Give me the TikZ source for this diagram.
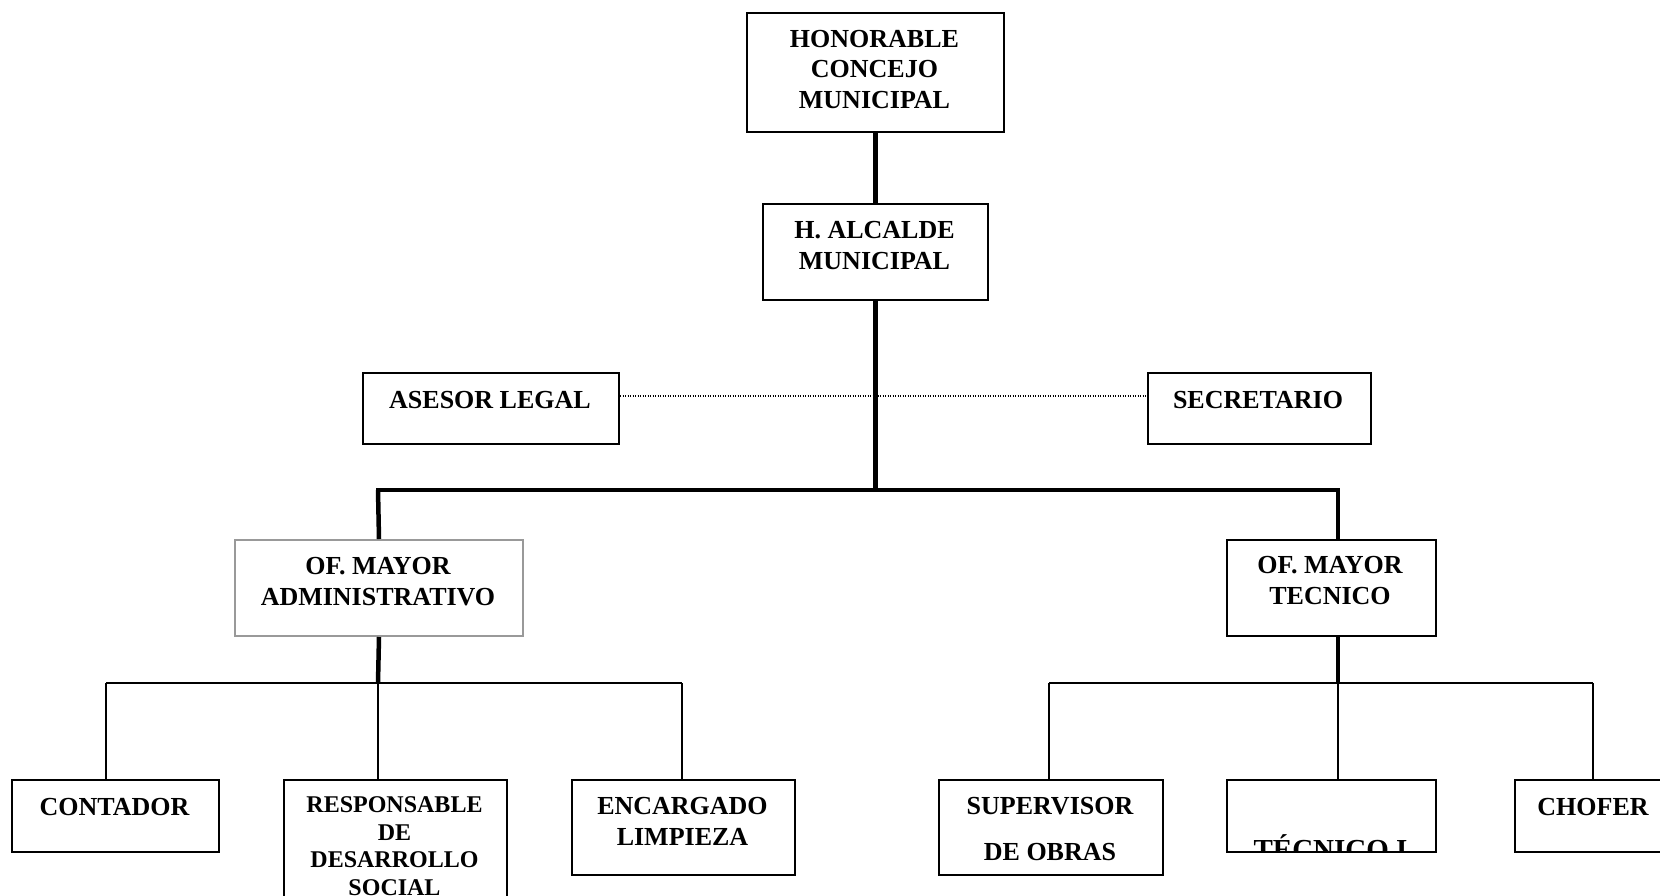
\documentclass[tikz,border=0pt]{standalone}
\usepackage{fontspec}
\setmainfont{Liberation Serif}
\begin{document}
\begin{tikzpicture}[x=1pt,y=-1pt,
  box/.style={draw=black, line width=2pt, rectangle, inner sep=0pt, anchor=north west},
  graybox/.style={box, draw=black!40},
  lbl/.style={font=\fontsize{26}{30.5}\selectfont\bfseries, align=center, inner sep=0pt, anchor=base},
  small/.style={font=\fontsize{24}{27.5}\selectfont\bfseries},
  thickline/.style={line width=4.5pt},
  thinline/.style={line width=1.8pt},
  dotline/.style={line width=1.2pt, dash pattern=on 1.2pt off 1.3pt}]
\useasboundingbox (0,0) rectangle (1660,895);
\fill[white] (0,0) rectangle (1660,895);
\clip (0,0) rectangle (1660,895);

% boxes
\node[box, minimum width=257pt, minimum height=119pt] (hon) at (746,12) {};
\node[box, minimum width=225pt, minimum height=96pt] (alc) at (762,203) {};
\node[box, minimum width=256pt, minimum height=71pt] (ase) at (362,372) {};
\node[box, minimum width=223pt, minimum height=71pt] (sec) at (1147,372) {};
\node[graybox, minimum width=288pt, minimum height=96pt] (adm) at (234,539) {};
\node[box, minimum width=209pt, minimum height=96pt] (tec) at (1226,539) {};
\node[box, minimum width=207pt, minimum height=72pt] (con) at (11,779) {};
\node[box, minimum width=223pt, minimum height=140pt] (res) at (283,779) {};
\node[box, minimum width=223pt, minimum height=95pt] (enc) at (571,779) {};
\node[box, minimum width=224pt, minimum height=95pt] (sup) at (938,779) {};
\node[box, minimum width=209pt, minimum height=72pt] (tei) at (1226,779) {};
\node[box, minimum width=158pt, minimum height=72pt] (cho) at (1514,779) {};

% texts (anchor = baseline of the last line)
\node[lbl] (hon-t) at (874.5,108) {HONORABLE\\CONCEJO\\MUNICIPAL};
\node[lbl] (alc-t) at (874.5,269) {H. ALCALDE\\MUNICIPAL};
\node[lbl] (ase-t) at (490,408) {ASESOR LEGAL};
\node[lbl] (sec-t) at (1258,408) {SECRETARIO};
\node[lbl] (adm-t) at (378,605) {OF. MAYOR\\ADMINISTRATIVO};
\node[lbl] (tec-t) at (1330,604) {OF. MAYOR\\TECNICO};
\node[lbl] (con-t) at (114.5,815) {CONTADOR};
\node[lbl, small] (res-t) at (394.5,895) {RESPONSABLE\\DE\\DESARROLLO\\SOCIAL};
\node[lbl] (enc-t) at (682.5,845) {ENCARGADO\\LIMPIEZA};
\node[lbl, font=\fontsize{26}{46}\selectfont\bfseries] (sup-t) at (1050,860) {SUPERVISOR\\DE OBRAS};
\begin{scope}
  \clip (tei.north west) rectangle ([yshift=1pt]tei.south east);
  \node[lbl, font=\fontsize{29}{32}\selectfont\bfseries] (tei-t) at (1330.5,859) {TÉCNICO I};
\end{scope}
\node[box, minimum width=209pt, minimum height=72pt] at (1226,779) {};
\node[lbl] (cho-t) at (1593,815) {CHOFER};

% coordinates
\coordinate (barL) at (378,490);
\coordinate (barR) at (1338,490);
\coordinate (admJ) at (378,683);
\coordinate (tecJ) at (1338,683);
\coordinate (admL) at (106,683);
\coordinate (admR) at (682,683);
\coordinate (tecL) at (1049,683);
\coordinate (tecR) at (1593,683);

% thick connectors
\draw[thickline] (hon.south) -- (alc.north);
\draw[thickline] (alc.south) -- (alc.south |- barL);
\draw[thickline, line cap=rect] (barL) -- (barR);
\draw[thickline] (barL) -- (adm.north);
\draw[thickline] (barR) -- (barR |- tec.north);
\draw[thickline] (adm.south) -- (admJ);
\draw[thickline] (tecJ |- tec.south) -- (tecJ);

% thin connectors
\draw[thinline] (admL) -- (admR);
\draw[thinline] (admL) -- (admL |- con.north);
\draw[thinline] (admJ) -- (admJ |- res.north);
\draw[thinline] (admR) -- (admR |- enc.north);
\draw[thinline] (tecL) -- (tecR);
\draw[thinline] (tecL) -- (tecL |- sup.north);
\draw[thinline] (tecJ) -- (tecJ |- tei.north);
\draw[thinline] (tecR) -- (tecR |- cho.north);

% dotted
\draw[dotline] (ase.east |- 0,396) -- (sec.west |- 0,396);
\end{tikzpicture}
\end{document}
